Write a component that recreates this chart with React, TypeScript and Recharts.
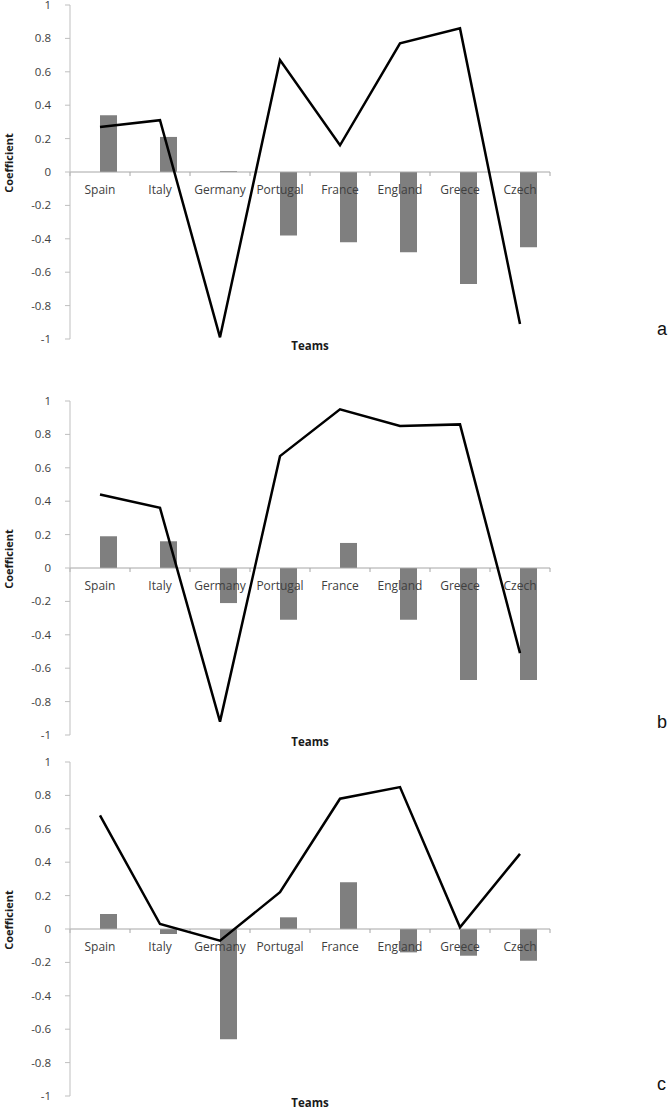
import React from 'react';
import {
  ComposedChart,
  Bar,
  Line,
  XAxis,
  YAxis,
  ReferenceLine,
  ReferenceDot,
} from 'recharts';

const teams = ['Spain', 'Italy', 'Germany', 'Portugal', 'France', 'England', 'Greece', 'Czech'];

const lineA = [0.27, 0.31, -0.99, 0.67, 0.16, 0.77, 0.86, -0.91];
const barsA = [0.34, 0.21, 0.005, -0.38, -0.42, -0.48, -0.67, -0.45];

const lineB = [0.44, 0.36, -0.92, 0.67, 0.95, 0.85, 0.86, -0.51];
const barsB = [0.19, 0.16, -0.21, -0.31, 0.15, -0.31, -0.67, -0.67];

const lineC = [0.68, 0.03, -0.07, 0.22, 0.78, 0.85, 0.01, 0.45];
const barsC = [0.09, -0.03, -0.66, 0.07, 0.28, -0.14, -0.16, -0.19];

const yTicks = [-1, -0.8, -0.6, -0.4, -0.2, 0, 0.2, 0.4, 0.6, 0.8, 1];

const panelLetters = ['a', 'b', 'c'];

const FONT = '"Open Sans", "Noto Sans", sans-serif';
const AXIS_GRAY = '#bfbfbf';
const TEXT_GRAY = '#404040';
const BAR_GRAY = '#7f7f7f';

function buildData(line: number[], bars: number[]) {
  return teams.map((t, i) => ({ team: t, line: line[i], bar: bars[i], pad: null }));
}

function Panel({ line, bars, top }: { line: number[]; bars: number[]; top: number }) {
  const data = buildData(line, bars);
  return (
    <div style={{ position: 'absolute', left: 0, top, width: 560, height: 365 }}>
      <ComposedChart
        width={560}
        height={365}
        data={data}
        margin={{ top: 11, right: 10, left: 0, bottom: 0 }}
        barGap={0}
        barSize={17}
      >
        <XAxis
          dataKey="team"
          tick={false}
          tickLine={false}
          axisLine={false}
          height={20}
          label={{
            content: (props: any) => {
              const vb = props.viewBox || {};
              return (
                <text
                  x={vb.x + vb.width / 2}
                  y={vb.y + 6.5}
                  textAnchor="middle"
                  dominantBaseline="central"
                  fontFamily={FONT}
                  fontWeight="bold"
                  fontSize={11.5}
                  fill="#1a1a1a"
                >
                  Teams
                </text>
              );
            },
          }}
        />
        <YAxis
          domain={[-1, 1]}
          ticks={yTicks}
          interval={0}
          allowDataOverflow
          width={70}
          tickSize={5}
          tickMargin={14}
          axisLine={{ stroke: AXIS_GRAY }}
          tickLine={{ stroke: AXIS_GRAY }}
          tick={{ fill: TEXT_GRAY, fontSize: 11.5, fontFamily: FONT }}
          tickFormatter={(v: number) => String(v)}
          label={{
            content: (props: any) => {
              const vb = props.viewBox || {};
              const cx = vb.x + 8;
              const cy = vb.y + vb.height / 2 - 9;
              return (
                <text
                  x={cx}
                  y={cy}
                  transform={`rotate(-90 ${cx} ${cy})`}
                  textAnchor="middle"
                  dominantBaseline="central"
                  fontFamily={FONT}
                  fontWeight="bold"
                  fontSize={11}
                  fill="#1a1a1a"
                >
                  Coefficient
                </text>
              );
            },
          }}
        />
        <ReferenceLine y={0} stroke="#a6a6a6" strokeWidth={1} />
        {teams.map((t) => (
          <ReferenceLine
            key={'tk-' + t}
            segment={[
              { x: t, y: 0 },
              { x: t, y: 0 },
            ]}
            position="start"
            shape={(p: any) => (
              <line x1={p.x1} y1={p.y1} x2={p.x1} y2={p.y1 + 4} stroke="#a6a6a6" strokeWidth={1} />
            )}
          />
        ))}
        <ReferenceLine
          segment={[
            { x: teams[teams.length - 1], y: 0 },
            { x: teams[teams.length - 1], y: 0 },
          ]}
          position="end"
          shape={(p: any) => (
            <line x1={p.x1} y1={p.y1} x2={p.x1} y2={p.y1 + 4} stroke="#a6a6a6" strokeWidth={1} />
          )}
        />
        <Bar dataKey="pad" fill="transparent" isAnimationActive={false} />
        <Bar dataKey="bar" fill={BAR_GRAY} isAnimationActive={false} />
        {teams.map((t) => (
          <ReferenceDot
            key={'lb-' + t}
            x={t}
            y={0}
            r={0}
            shape={(p: any) => (
              <text
                x={p.cx}
                y={p.cy + 22}
                textAnchor="middle"
                fontFamily={FONT}
                fontSize={12}
                fill={TEXT_GRAY}
              >
                {t}
              </text>
            )}
          />
        ))}
        <Line
          type="linear"
          dataKey="line"
          stroke="#000000"
          strokeWidth={2.5}
          dot={false}
          isAnimationActive={false}
        />
      </ComposedChart>
    </div>
  );
}

export default function App() {
  return (
    <div
      style={{
        position: 'absolute',
        left: 0,
        top: 0,
        width: 670,
        height: 1107,
        overflow: 'hidden',
        background: '#ffffff',
      }}
    >
      <Panel line={lineA} bars={barsA} top={-6} />
      <Panel line={lineB} bars={barsB} top={390} />
      <Panel line={lineC} bars={barsC} top={751} />
      <svg
        width={670}
        height={1107}
        style={{ position: 'absolute', left: 0, top: 0, pointerEvents: 'none' }}
      >
        <text x={657} y={335} fontFamily='"Liberation Sans", Arial, sans-serif' fontSize={18} fill="#111">
          {panelLetters[0]}
        </text>
        <text x={657} y={728} fontFamily='"Liberation Sans", Arial, sans-serif' fontSize={18} fill="#111">
          {panelLetters[1]}
        </text>
        <text x={657} y={1090} fontFamily='"Liberation Sans", Arial, sans-serif' fontSize={18} fill="#111">
          {panelLetters[2]}
        </text>
      </svg>
    </div>
  );
}
